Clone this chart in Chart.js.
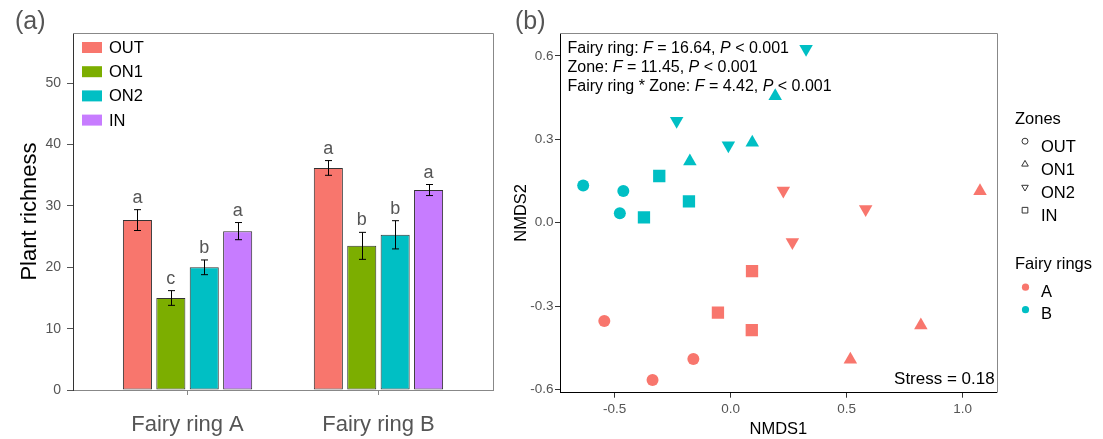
<!DOCTYPE html>
<html>
<head>
<meta charset="utf-8">
<script src="https://cdn.jsdelivr.net/npm/chart.js@4.4.1/dist/chart.umd.min.js"></script>
<style>
  html, body { margin: 0; padding: 0; background: #fff; }
  #wrap { position: relative; width: 1103px; height: 439px; }
  #barChart { position: absolute; left: 0; top: 0; }
  #nmdsChart { position: absolute; left: 500px; top: 0; }
</style>
</head>
<body>
<div id="wrap">
  <canvas id="barChart" width="500" height="439"></canvas>
  <canvas id="nmdsChart" width="603" height="439"></canvas>
</div>
<script>
// ---- panel (a) data ----
const groups = ['Fairy ring A', 'Fairy ring B'];
const zones = ['OUT', 'ON1', 'ON2', 'IN'];
const zoneColors = ['#F8766D', '#7CAE00', '#00BFC4', '#C77CFF'];
const richnessA = [27.7, 15.0, 20.0, 25.9];
const richnessB = [36.2, 23.5, 25.3, 32.6];
const seA = [1.7, 1.2, 1.2, 1.4];
const seB = [1.2, 2.2, 2.3, 0.9];
const lettersA = ['a', 'c', 'b', 'a'];
const lettersB = ['a', 'b', 'b', 'a'];
const richnessTicks = [0, 10, 20, 30, 40, 50];

// ---- panel (b) data ----
const rings = ['A', 'B'];
const ringColors = ['#F8766D', '#00BFC4'];
const nmdsRing = ['B','B','B','B','B','B','B','B','B','B','B','B',
                  'A','A','A','A','A','A','A','A','A','A','A','A'];
const nmdsZone = ['OUT','OUT','OUT','ON1','ON1','ON1','ON2','ON2','ON2','IN','IN','IN',
                  'OUT','OUT','OUT','ON1','ON1','ON1','ON2','ON2','ON2','IN','IN','IN'];
const nmds1 = [-0.636, -0.463, -0.478, -0.176, 0.093, 0.192, -0.233, -0.010, 0.325, -0.374, -0.308, -0.180,
               -0.545, -0.161, -0.337, 1.075, 0.820, 0.516, 0.227, 0.266, 0.582, 0.092, -0.055, 0.091];
const nmds2 = [0.134, 0.114, 0.034, 0.221, 0.288, 0.455, 0.366, 0.278, 0.625, 0.019, 0.168, 0.077,
               -0.353, -0.490, -0.565, 0.114, -0.369, -0.492, 0.115, -0.070, 0.049, -0.174, -0.323, -0.386];
const nmds1Ticks = [-0.5, 0.0, 0.5, 1.0];
const nmds2Ticks = [-0.6, -0.3, 0.0, 0.3, 0.6];
const statTerms = ['Fairy ring', 'Zone', 'Fairy ring * Zone'];
const statF = ['16.64', '11.45', '4.42'];
const statP = ['0.001', '0.001', '0.001'];
const stressText = 'Stress = 0.18';

const FONT = '"Liberation Sans", Arial, Helvetica, sans-serif';
Chart.defaults.font.family = FONT;
Chart.defaults.animation = false;

const tickGrey = '#555555';

// ---------- (a) bar chart ----------
const barExtras = {
  id: 'barExtras',
  afterDatasetsDraw(chart) {
    const { ctx, chartArea: a, scales: { y } } = chart;
    ctx.save();
    chart.data.datasets.forEach((ds, i) => {
      chart.getDatasetMeta(i).data.forEach((bar, j) => {
        const v = j === 0 ? richnessA[i] : richnessB[i];
        const e = j === 0 ? seA[i] : seB[i];
        const x = Math.round(bar.x) + 0.5;
        const top = y.getPixelForValue(v + e);
        const bot = y.getPixelForValue(v - e);
        ctx.strokeStyle = '#000';
        ctx.lineWidth = 1;
        ctx.beginPath();
        ctx.moveTo(x, top); ctx.lineTo(x, bot);
        ctx.moveTo(x - 3.5, top); ctx.lineTo(x + 3.5, top);
        ctx.moveTo(x - 3.5, bot); ctx.lineTo(x + 3.5, bot);
        ctx.stroke();
        ctx.fillStyle = tickGrey;
        ctx.font = '18px ' + FONT;
        ctx.textAlign = 'center';
        ctx.textBaseline = 'alphabetic';
        ctx.fillText((j === 0 ? lettersA : lettersB)[i], bar.x, top - 7);
      });
    });

    // panel border (top / right)
    ctx.strokeStyle = '#888';
    ctx.lineWidth = 1;
    ctx.beginPath();
    ctx.moveTo(a.left, Math.round(a.top) + 0.5);
    ctx.lineTo(Math.round(a.right) + 0.5, Math.round(a.top) + 0.5);
    ctx.lineTo(Math.round(a.right) + 0.5, a.bottom);
    ctx.stroke();

    // legend inside the panel
    ctx.font = '16.5px ' + FONT;
    ctx.textAlign = 'left';
    ctx.textBaseline = 'middle';
    zones.forEach((z, i) => {
      const cy = 47.5 + i * 24.2;
      ctx.fillStyle = zoneColors[i];
      ctx.fillRect(82, cy - 5.5, 20, 11);
      ctx.fillStyle = '#000';
      ctx.fillText(z, 109, cy + 1);
    });

    // panel tag
    ctx.fillStyle = tickGrey;
    ctx.font = '25px ' + FONT;
    ctx.fillText('(a)', 15, 22);
    ctx.restore();
  }
};

new Chart(document.getElementById('barChart'), {
  type: 'bar',
  data: {
    datasets: zones.map((z, i) => ({
      label: z,
      data: [{ x: 1, y: richnessA[i] }, { x: 2, y: richnessB[i] }],
      backgroundColor: zoneColors[i],
      borderColor: '#333333',
      borderWidth: 1,
      borderSkipped: false,
      categoryPercentage: 0.70,
      barPercentage: 0.87
    }))
  },
  options: {
    responsive: false,
    layout: { padding: { left: 0, top: 33, right: 7, bottom: 0 } },
    plugins: { legend: { display: false }, tooltip: { enabled: false } },
    scales: {
      x: {
        type: 'linear',
        min: 0.4,
        max: 2.6,
        offset: false,
        afterBuildTicks: s => { s.ticks = [{ value: 1 }, { value: 2 }]; },
        afterFit: s => { s.height = 49; },
        ticks: {
          callback: v => groups[v - 1],
          color: tickGrey,
          font: { size: 22 },
          padding: 17,
          maxRotation: 0
        },
        grid: { offset: false, drawOnChartArea: false, drawTicks: true, tickLength: 5, color: '#888' },
        border: { display: true, color: '#888', width: 1 }
      },
      y: {
        min: 0,
        max: 58.2,
        afterBuildTicks: s => { s.ticks = richnessTicks.map(v => ({ value: v })); },
        afterFit: s => { s.width = 73; },
        ticks: { color: tickGrey, font: { size: 14 }, padding: 6 },
        grid: { drawOnChartArea: false, drawTicks: true, tickLength: 6, color: '#555' },
        border: { display: true, color: '#333', width: 1 },
        title: {
          display: true,
          text: 'Plant richness',
          color: '#000',
          font: { size: 22 },
          padding: { top: 17, bottom: 0 }
        }
      }
    }
  },
  plugins: [barExtras]
});

// ---------- (b) NMDS scatter ----------
const zoneShapes = {
  OUT: { style: 'circle', rotation: 0, radius: 6 },
  ON1: { style: 'triangle', rotation: 0, radius: 7.8 },
  ON2: { style: 'triangle', rotation: 180, radius: 7.8 },
  IN:  { style: 'rect', rotation: 0, radius: 8.7 }
};

const nmdsDatasets = [];
rings.forEach((r, ri) => {
  zones.forEach(z => {
    const pts = [];
    nmds1.forEach((x, k) => {
      if (nmdsRing[k] === r && nmdsZone[k] === z) pts.push({ x: x, y: nmds2[k] });
    });
    nmdsDatasets.push({
      label: r + ' ' + z,
      data: pts,
      pointStyle: zoneShapes[z].style,
      pointRotation: zoneShapes[z].rotation,
      pointRadius: zoneShapes[z].radius,
      pointBorderWidth: 0,
      backgroundColor: ringColors[ri],
      borderColor: ringColors[ri]
    });
  });
});

const nmdsExtras = {
  id: 'nmdsExtras',
  afterDatasetsDraw(chart) {
    const { ctx, chartArea: a } = chart;
    ctx.save();

    // panel border (top / right)
    ctx.strokeStyle = '#888';
    ctx.lineWidth = 1;
    ctx.beginPath();
    ctx.moveTo(a.left, Math.round(a.top) + 0.5);
    ctx.lineTo(Math.round(a.right) + 0.5, Math.round(a.top) + 0.5);
    ctx.lineTo(Math.round(a.right) + 0.5, a.bottom);
    ctx.stroke();

    // PERMANOVA statistics, with italic F and P
    ctx.fillStyle = '#000';
    ctx.textAlign = 'left';
    ctx.textBaseline = 'alphabetic';
    statTerms.forEach((t, i) => {
      const parts = [
        [t + ': ', false], ['F', true], [' = ' + statF[i] + ', ', false],
        ['P', true], [' < ' + statP[i], false]
      ];
      let x = 67.5;
      const yb = 53.3 + i * 18.7;
      parts.forEach(([s, it]) => {
        ctx.font = (it ? 'italic ' : '') + '16px ' + FONT;
        ctx.fillText(s, x, yb);
        x += ctx.measureText(s).width;
      });
    });

    // stress
    ctx.font = '17px ' + FONT;
    ctx.textAlign = 'right';
    ctx.fillText(stressText, a.right - 2, 384.3);

    // legend: Zones
    ctx.textAlign = 'left';
    ctx.font = '16.5px ' + FONT;
    ctx.fillText('Zones', 515, 124);
    zones.forEach((z, i) => {
      const yb = 151.7 + i * 23;
      ctx.fillStyle = '#000';
      ctx.fillText(z, 541, yb);
      const sh = zoneShapes[z];
      ctx.fillStyle = '#fff';
      ctx.strokeStyle = '#333';
      ctx.lineWidth = 1;
      Chart.helpers.drawPoint(ctx, {
        pointStyle: sh.style,
        rotation: sh.rotation,
        radius: sh.style === 'circle' ? 3 : (sh.style === 'rect' ? 4 : 3.8),
        borderWidth: 1
      }, 525, yb - 10.5);
    });

    // legend: Fairy rings
    ctx.fillStyle = '#000';
    ctx.fillText('Fairy rings', 515, 269);
    rings.forEach((r, i) => {
      const yb = 296.7 + i * 22.5;
      ctx.fillStyle = '#000';
      ctx.fillText(r, 541, yb);
      ctx.fillStyle = ringColors[i];
      ctx.beginPath();
      ctx.arc(525.5, yb - 9.5, 3.6, 0, Math.PI * 2);
      ctx.fill();
    });

    // panel tag
    ctx.fillStyle = tickGrey;
    ctx.font = '25px ' + FONT;
    ctx.textBaseline = 'middle';
    ctx.fillText('(b)', 15, 22);
    ctx.restore();
  }
};

new Chart(document.getElementById('nmdsChart'), {
  type: 'scatter',
  data: { datasets: nmdsDatasets },
  options: {
    responsive: false,
    layout: { padding: { left: 0, top: 33, right: 106.3, bottom: 0 } },
    plugins: { legend: { display: false }, tooltip: { enabled: false } },
    scales: {
      x: {
        type: 'linear',
        min: -0.736,
        max: 1.147,
        afterBuildTicks: s => { s.ticks = nmds1Ticks.map(v => ({ value: v })); },
        afterFit: s => { s.height = 46.3; },
        ticks: {
          callback: v => v.toFixed(1),
          color: tickGrey,
          font: { size: 13.5 },
          padding: 3.5,
          maxRotation: 0
        },
        grid: { drawOnChartArea: false, drawTicks: true, tickLength: 5, color: '#333' },
        border: { display: true, color: '#000', width: 1 },
        title: {
          display: true,
          text: 'NMDS1',
          color: '#000',
          font: { size: 16.5 },
          padding: { top: 0, bottom: 0 }
        }
      },
      y: {
        type: 'linear',
        min: -0.611,
        max: 0.682,
        afterBuildTicks: s => { s.ticks = nmds2Ticks.map(v => ({ value: v })); },
        afterFit: s => { s.width = 60; },
        ticks: {
          callback: v => v.toFixed(1),
          color: tickGrey,
          font: { size: 13.5 },
          padding: 1.5
        },
        grid: { drawOnChartArea: false, drawTicks: true, tickLength: 5, color: '#333' },
        border: { display: true, color: '#000', width: 1 },
        title: {
          display: true,
          text: 'NMDS2',
          color: '#000',
          font: { size: 16.5 },
          padding: { top: 12, bottom: 0 }
        }
      }
    }
  },
  plugins: [nmdsExtras]
});
</script>
</body>
</html>
